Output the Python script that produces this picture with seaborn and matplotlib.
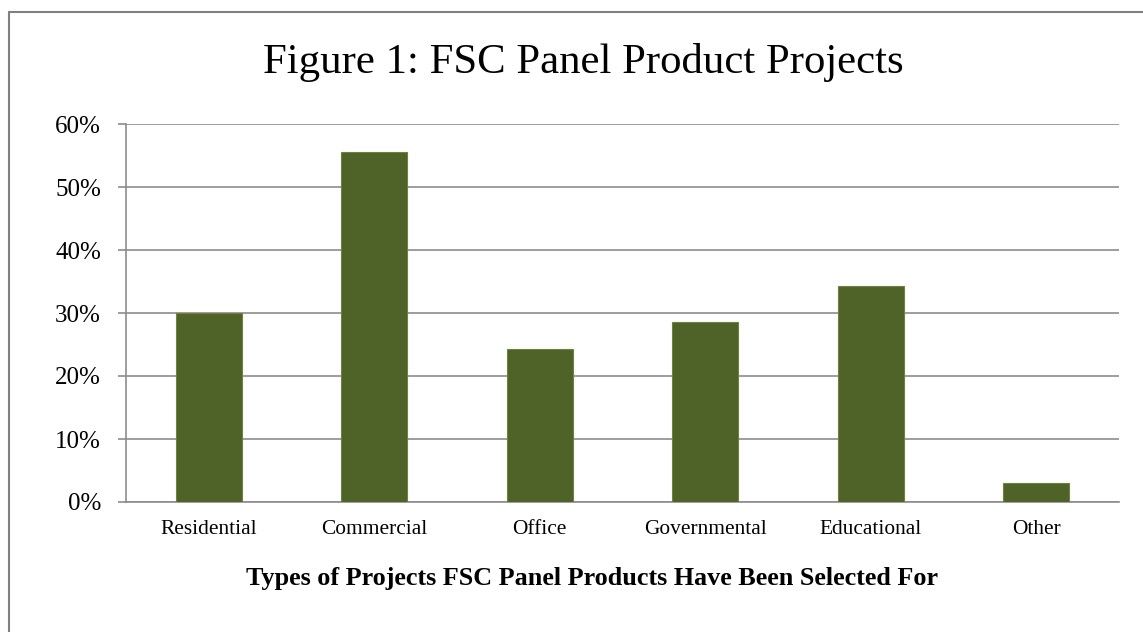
import matplotlib
matplotlib.use("Agg")
import matplotlib.pyplot as plt
import seaborn as sns
import pandas as pd
from matplotlib.lines import Line2D
from matplotlib.ticker import FuncFormatter

categories = ["Residential", "Commercial", "Office", "Governmental", "Educational", "Other"]
values = [30.0, 55.6, 24.3, 28.6, 34.3, 3.0]
yticks = [0, 10, 20, 30, 40, 50, 60]

sns.set_theme(style="white")
plt.rcParams['font.family'] = ['Liberation Serif', 'DejaVu Serif']
plt.rcParams['text.color'] = 'black'
plt.rcParams['xtick.color'] = 'black'
plt.rcParams['ytick.color'] = 'black'
plt.rcParams['axes.labelcolor'] = 'black'

df = pd.DataFrame({"cat": categories, "val": values})

W, H = 1143, 632
fig = plt.figure(figsize=(W / 100, H / 100), dpi=100)
ax = fig.add_axes([126 / W, 1 - 502 / H, (1119 - 126) / W, (502 - 124) / H])

sns.barplot(data=df, x="cat", y="val", ax=ax, color="#4F6228", width=0.4,
            saturation=1, edgecolor="#6E8240", linewidth=0.8, zorder=3)

ax.set_ylim(0, 60)
ax.set_yticks(yticks)
ax.yaxis.set_major_formatter(FuncFormatter(lambda v, p: f"{int(v)}%"))
ax.grid(axis="y", color="#8C8C8C", linewidth=1.2, zorder=0)
ax.set_axisbelow(True)
for s in ["top", "right"]:
    ax.spines[s].set_visible(False)
for s in ["left", "bottom"]:
    ax.spines[s].set_color("#8C8C8C")
    ax.spines[s].set_linewidth(1.2)
ax.tick_params(axis="y", which="both", left=True, length=6, color="#8C8C8C", width=1.2,
               labelsize=18, pad=12, labelcolor="black")
ax.tick_params(axis="x", bottom=False, labelsize=15.4, pad=7, labelcolor="black")
ax.set_xlabel("Types of Projects FSC Panel Products Have Been Selected For",
              fontsize=18.8, fontweight="bold", color="black")
ax.xaxis.set_label_coords((592 - 126) / 993, -(578 - 502) / 378)
ax.xaxis.label.set_va("center")
ax.set_ylabel("")
fig.text(583 / W, 1 - 62 / H, "Figure 1: FSC Panel Product Projects", ha="center", va="center",
         fontsize=30.8, color="black")

# outer border (only top and left edges visible)
fig.add_artist(Line2D([8.5 / W, 8.5 / W], [0, 1 - 11.5 / H], transform=fig.transFigure,
                      color="#808080", linewidth=1.5))
fig.add_artist(Line2D([8.5 / W, 1], [1 - 11.5 / H, 1 - 11.5 / H], transform=fig.transFigure,
                      color="#808080", linewidth=1.5))

fig.savefig("out.png", dpi=100)
